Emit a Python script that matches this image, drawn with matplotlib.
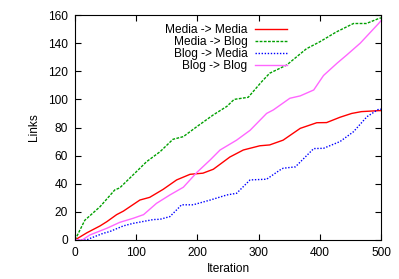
import matplotlib
matplotlib.use("Agg")
import matplotlib.pyplot as plt

plt.rcParams['font.family'] = ['Liberation Sans', 'DejaVu Sans']

# Media -> Media (red)
mm_x = [0, 19, 41, 52, 68, 79, 106, 122, 144, 166, 188, 209, 226, 253, 275, 302, 318, 340, 368, 395, 411, 433, 452, 468, 496, 500]
mm_y = [0, 5, 10, 13, 18, 20.5, 28.4, 30.3, 36, 42.7, 46.7, 47.5, 50.3, 59, 64, 67, 67.6, 71, 79.4, 83.4, 83.5, 87.3, 90, 91.3, 92, 92]

# Media -> Blog (green)
mb_x = [0, 16, 41, 65, 73, 98, 117, 139, 160, 177, 199, 226, 248, 260, 283, 305, 318, 346, 378, 400, 427, 455, 476, 496, 500]
mb_y = [0, 14, 23.7, 35.6, 37, 47.6, 55.7, 62.8, 71.6, 73.5, 80.6, 89, 95, 100, 101.5, 112.6, 118.6, 124.5, 136, 141, 148, 154, 154, 157.5, 158]

# Blog -> Media (blue)
bm_x = [0, 19, 24, 46, 57, 79, 95, 128, 139, 155, 169, 174, 193, 221, 248, 264, 286, 313, 335, 340, 360, 390, 406, 433, 455, 477, 496, 500]
bm_y = [0, 0, 1, 4.7, 6, 10, 11.8, 14.5, 14.7, 16.6, 22.7, 25, 25, 28.4, 32, 33.2, 42.7, 43.2, 49.8, 51, 52, 65, 65.2, 70, 77, 87.7, 93, 93]

# Blog -> Blog (magenta)
bb_x = [0, 12, 24, 52, 73, 95, 112, 133, 155, 177, 199, 221, 237, 264, 286, 313, 324, 351, 368, 390, 406, 428, 444, 466, 496, 500]
bb_y = [0, 0, 3.5, 8.3, 12.5, 15.4, 18, 26, 32, 37.5, 48, 57, 64, 71, 78, 90, 92.5, 100.8, 102.5, 106.7, 117, 125.7, 131.6, 140, 154, 156]

labels = ["Media -> Media", "Media -> Blog", "Blog -> Media", "Blog -> Blog"]
x_ticks = [0, 100, 200, 300, 400, 500]
y_ticks = [0, 20, 40, 60, 80, 100, 120, 140, 160]

fig = plt.figure(figsize=(3.99, 2.79), dpi=100)
ax = fig.add_axes([0.188, 0.140, 0.767, 0.806])

ax.plot(mm_x, mm_y, color='#ff0000', lw=1.0, ls='-', label=labels[0])
ax.plot(mb_x, mb_y, color='#00a000', lw=1.0, ls=(0, (2, 1)), label=labels[1])
ax.plot(bm_x, bm_y, color='#0000ff', lw=1.0, ls=(0, (1, 1.2)), label=labels[2])
ax.plot(bb_x, bb_y, color='#ff66ff', lw=1.0, ls='-', label=labels[3])

ax.set_xlim(0, 500)
ax.set_ylim(0, 160)
ax.set_xticks(x_ticks)
ax.set_yticks(y_ticks)
ax.tick_params(direction='in', top=True, right=True, length=4, width=0.8,
               labelsize=8.6, colors='black', pad=5)
for s in ax.spines.values():
    s.set_linewidth(0.8)
ax.set_xlabel("Iteration", fontsize=8.6, labelpad=3)
ax.set_ylabel("Links", fontsize=8.6, labelpad=6)

leg = ax.legend(loc='upper right', bbox_to_anchor=(0.70, 0.972), frameon=False,
                markerfirst=False, fontsize=8.6, handlelength=2.7,
                handletextpad=0.6, labelspacing=0.0, borderpad=0.2,
                borderaxespad=0.0)

fig.savefig("out.png", dpi=100)
